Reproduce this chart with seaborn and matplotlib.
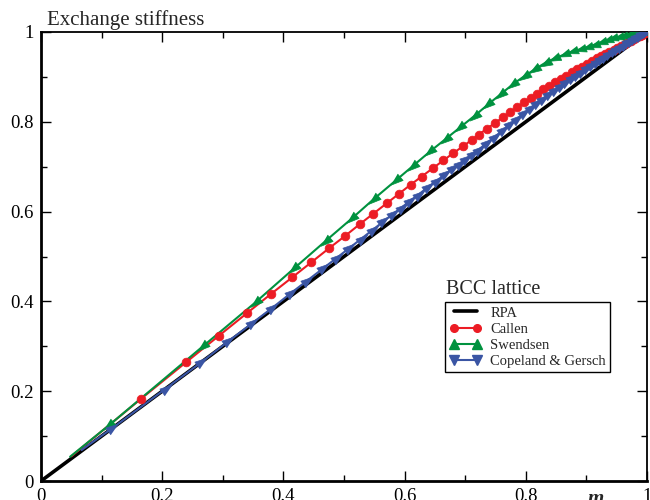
import matplotlib
matplotlib.use("Agg")
import matplotlib.pyplot as plt
from matplotlib.lines import Line2D
import numpy as np
import seaborn as sns

# ---------------- data ----------------
rpa_m = [0.0, 1.0]
rpa_y = [0.0, 1.0]

callen_m = [0.050, 0.165, 0.239, 0.294, 0.340, 0.379, 0.415, 0.446, 0.475, 0.502,
            0.526, 0.548, 0.571, 0.591, 0.610, 0.628, 0.647, 0.664, 0.680, 0.697,
            0.711, 0.722, 0.736, 0.749, 0.762, 0.774, 0.786, 0.797, 0.808, 0.819,
            0.829, 0.839, 0.849, 0.858, 0.867, 0.876, 0.885, 0.893, 0.901, 0.909,
            0.917, 0.924, 0.931, 0.938, 0.945, 0.951, 0.957, 0.963, 0.969, 0.974,
            0.979, 0.984, 0.988, 0.992, 0.996, 1.000]
callen_y = [0.055, 0.183, 0.264, 0.324, 0.374, 0.416, 0.454, 0.487, 0.518, 0.546,
            0.572, 0.595, 0.619, 0.640, 0.660, 0.678, 0.697, 0.714, 0.730, 0.746,
            0.760, 0.771, 0.785, 0.797, 0.810, 0.821, 0.833, 0.843, 0.853, 0.863,
            0.872, 0.880, 0.889, 0.896, 0.903, 0.910, 0.917, 0.923, 0.929, 0.935,
            0.941, 0.946, 0.951, 0.956, 0.961, 0.965, 0.969, 0.973, 0.978, 0.981,
            0.985, 0.988, 0.991, 0.994, 0.997, 1.000]

swendsen_m = [0.048, 0.113, 0.268, 0.354, 0.418, 0.470, 0.514, 0.550, 0.586, 0.614,
              0.642, 0.668, 0.692, 0.716, 0.738, 0.759, 0.779, 0.798, 0.816, 0.833,
              0.849, 0.864, 0.878, 0.891, 0.903, 0.914, 0.925, 0.935, 0.944, 0.953,
              0.961, 0.969, 0.976, 0.983, 0.989, 0.995, 1.000]
swendsen_y = [0.054, 0.125, 0.301, 0.398, 0.474, 0.535, 0.586, 0.629, 0.670, 0.702,
              0.734, 0.762, 0.788, 0.814, 0.839, 0.862, 0.884, 0.902, 0.918, 0.932,
              0.942, 0.950, 0.957, 0.962, 0.967, 0.972, 0.977, 0.982, 0.986, 0.989,
              0.992, 0.994, 0.996, 0.998, 0.999, 1.000, 1.000]

cg_m = [0.067, 0.117, 0.206, 0.264, 0.309, 0.348, 0.382, 0.412, 0.439, 0.466,
        0.488, 0.509, 0.529, 0.548, 0.565, 0.581, 0.595, 0.609, 0.623, 0.639,
        0.653, 0.667, 0.680, 0.691, 0.702, 0.713, 0.722, 0.736, 0.749, 0.762,
        0.774, 0.786, 0.797, 0.808, 0.819, 0.829, 0.839, 0.849, 0.858, 0.867,
        0.876, 0.885, 0.893, 0.901, 0.909, 0.917, 0.924, 0.931, 0.938, 0.945,
        0.951, 0.957, 0.963, 0.969, 0.974, 0.979, 0.984, 0.988, 0.992, 0.996, 1.000]
cg_y = [0.069, 0.117, 0.206, 0.264, 0.311, 0.351, 0.386, 0.418, 0.446, 0.474,
        0.497, 0.519, 0.540, 0.560, 0.578, 0.595, 0.609, 0.624, 0.638, 0.655,
        0.669, 0.683, 0.696, 0.707, 0.718, 0.729, 0.738, 0.753, 0.767, 0.781,
        0.794, 0.807, 0.819, 0.830, 0.841, 0.851, 0.861, 0.871, 0.880, 0.888,
        0.897, 0.905, 0.912, 0.919, 0.926, 0.933, 0.939, 0.945, 0.951, 0.957,
        0.962, 0.967, 0.972, 0.977, 0.981, 0.985, 0.989, 0.992, 0.995, 0.998, 1.000]

series_names = ["RPA", "Callen", "Swendsen", "Copeland & Gersch"]
tick_vals = [0, 0.2, 0.4, 0.6, 0.8, 1]
tick_labels = ["0", "0.2", "0.4", "0.6", "0.8", "1"]

# ---------------- style ----------------
sns.set_theme(style="ticks")
plt.rcParams["font.family"] = ["Liberation Serif", "DejaVu Serif"]

RED = "#ec1c24"
GREEN = "#00923f"
BLUE = "#3a55a4"

fig = plt.figure(figsize=(6.5, 5), dpi=100)
ax = fig.add_axes([41 / 650, 19 / 500, 606 / 650, 449 / 500])
ax.set_xlim(0, 1)
ax.set_ylim(0, 1)

# lines through seaborn
sns.lineplot(x=rpa_m, y=rpa_y, ax=ax, color="black", lw=2.6, legend=False,
             estimator=None, sort=False)
sns.lineplot(x=callen_m, y=callen_y, ax=ax, color=RED, lw=1.5, legend=False,
             estimator=None, sort=False)
sns.lineplot(x=swendsen_m, y=swendsen_y, ax=ax, color=GREEN, lw=1.5, legend=False,
             estimator=None, sort=False)
sns.lineplot(x=cg_m, y=cg_y, ax=ax, color=BLUE, lw=1.5, legend=False,
             estimator=None, sort=False)
ax.set_xlim(0, 1)
ax.set_ylim(0, 1)


def tri_marker(angle_deg):
    """Triangle marker whose apex points toward angle_deg (display space)."""
    a = np.deg2rad(angle_deg)
    offs = np.deg2rad([0.0, 140.0, 220.0])
    rad = [1.0, 0.9, 0.9]
    return [(r * np.cos(a + o), r * np.sin(a + o)) for r, o in zip(rad, offs)]


def direction_markers(xs, ys, color, flip):
    pts = ax.transData.transform(np.column_stack([xs, ys]))
    n = len(xs)
    for i in range(1, n):
        j0 = max(i - 1, 0)
        j1 = min(i + 1, n - 1)
        d = pts[j1] - pts[j0]
        ang = np.degrees(np.arctan2(d[1], d[0]))
        if flip:
            ang += 180.0
        ax.plot([xs[i]], [ys[i]], ls="none", marker=tri_marker(ang), ms=9.5,
                color=color, mec=color, mew=0.5, zorder=3)


ax.plot(callen_m[1:], callen_y[1:], ls="none", marker="o", ms=6.3,
        color=RED, mec=RED, mew=0.5, zorder=3)
direction_markers(swendsen_m, swendsen_y, GREEN, flip=True)
direction_markers(cg_m, cg_y, BLUE, flip=False)

ax.set_xticks(tick_vals)
ax.set_xticklabels(tick_labels)
ax.set_yticks(tick_vals)
ax.set_yticklabels(tick_labels)
ax.set_xticks([0.1, 0.3, 0.5, 0.7, 0.9], minor=True)
ax.set_yticks([0.1, 0.3, 0.5, 0.7, 0.9], minor=True)
ax.tick_params(which="both", direction="in", top=True, right=True,
               colors="black", labelsize=13.5, width=1.0)
ax.tick_params(which="major", length=7, pad=5)
ax.tick_params(which="minor", length=4)
ax.set_xlabel("")
ax.set_ylabel("")

for side in ["left", "bottom"]:
    ax.spines[side].set_linewidth(2.0)
for side in ["top", "right"]:
    ax.spines[side].set_linewidth(1.3)
for s in ax.spines.values():
    s.set_color("black")

# titles / labels
fig.text(47 / 650, 1 - 25 / 500, "Exchange stiffness", fontsize=15,
         ha="left", va="baseline")
ax.annotate("m", xy=(0.915, 0), xycoords=("data", "axes fraction"),
            xytext=(0, -8), textcoords="offset pixels", ha="center", va="top",
            fontsize=15, style="italic", fontweight="bold")

# legend
handles = [
    Line2D([], [], color="black", lw=2.6),
    Line2D([], [], color=RED, lw=1.5, marker="o", markersize=5.5, markeredgecolor=RED),
    Line2D([], [], color=GREEN, lw=1.5, marker="^", markersize=6.5, markeredgecolor=GREEN),
    Line2D([], [], color=BLUE, lw=1.5, marker="v", markersize=6.5, markeredgecolor=BLUE),
]
leg = ax.legend(handles, series_names, loc="upper left",
                bbox_to_anchor=((445 - 41) / 606, (481 - 302) / 449),
                borderaxespad=0, frameon=True, fancybox=False, framealpha=1,
                edgecolor="black", fontsize=10.5, numpoints=2, handlelength=2.2,
                handletextpad=0.6, labelspacing=0.2, borderpad=0.3)
leg.get_frame().set_linewidth(1.0)
fig.text(446 / 650, 1 - 294 / 500, "BCC lattice", fontsize=14.5,
         ha="left", va="baseline")

fig.savefig("out.png", dpi=100)
